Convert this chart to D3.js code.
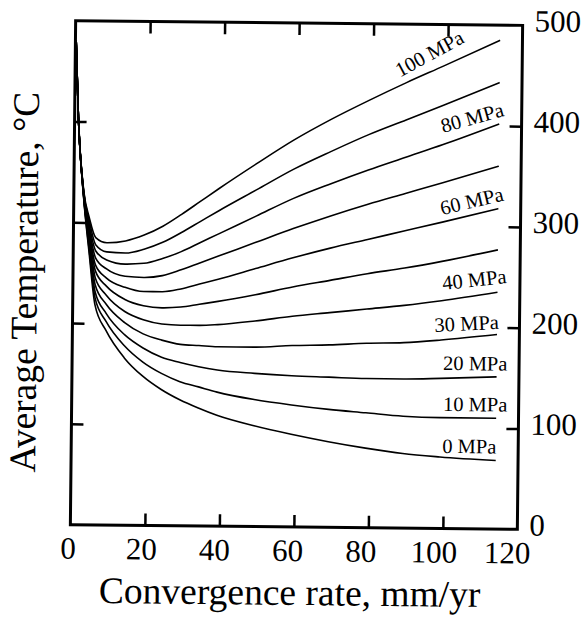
<!DOCTYPE html>
<html>
<head>
<meta charset="utf-8">
<script src="https://cdn.jsdelivr.net/npm/d3@7"></script>
<style>
  html, body { margin: 0; padding: 0; background: #fff; }
  text { font-family: "Liberation Serif", "Times New Roman", serif; fill: #000; }
</style>
</head>
<body>
<svg id="chart" width="587" height="618"></svg>
<script>
// Convergence rate (mm/yr) at which each temperature curve is sampled
const rates = [0.2, 1, 2.7, 4.2, 6, 9, 14, 19, 24, 29, 34, 39, 49, 59, 69, 79, 89, 99, 114];

// Average temperature (°C) for each shear stress level
const temp0MPa   = [480, 405, 322, 272, 218, 193, 166, 148, 135, 125, 117, 110, 100, 92, 85, 79, 74, 71, 68];
const temp10MPa  = [480, 405, 323, 275, 225, 202, 178, 162, 151, 143, 138, 133, 126, 121, 117, 114, 111, 110, 110];
const temp20MPa  = [480, 405, 324, 279, 231, 210, 189, 176, 167, 162, 158, 155, 152, 150, 149, 148, 148, 149, 151];
const temp30MPa  = [480, 405, 324, 282, 238, 219, 201, 190, 184, 180, 179, 178, 178, 180, 181, 183, 184, 187, 193];
const temp40MPa  = [480, 405, 325, 285, 245, 228, 212, 204, 200, 199, 199, 200, 204, 209, 213, 217, 221, 226, 235];
const temp50MPa  = [480, 405, 326, 289, 252, 237, 224, 218, 216, 217, 220, 223, 230, 238, 245, 252, 258, 265, 277];
const temp60MPa  = [480, 405, 327, 292, 258, 245, 236, 232, 232, 235, 240, 245, 256, 267, 277, 286, 295, 304, 318];
const temp70MPa  = [480, 405, 328, 295, 265, 254, 247, 246, 248, 254, 261, 268, 282, 296, 309, 321, 332, 343, 360];
const temp80MPa  = [480, 405, 328, 298, 272, 263, 259, 260, 265, 272, 281, 290, 308, 326, 341, 355, 368, 381, 402];
const temp90MPa  = [480, 405, 329, 302, 278, 271, 270, 274, 281, 291, 302, 313, 334, 355, 373, 390, 405, 420, 443];
const temp100MPa = [480, 405, 330, 305, 285, 280, 282, 288, 297, 309, 322, 335, 360, 384, 405, 424, 442, 459, 485];

const stressSeries = [temp0MPa, temp10MPa, temp20MPa, temp30MPa, temp40MPa, temp50MPa,
                      temp60MPa, temp70MPa, temp80MPa, temp90MPa, temp100MPa];

// Axis ticks
const xTickValues = [0, 20, 40, 60, 80, 100, 120];
const yTickValues = [0, 100, 200, 300, 400, 500];

// Curve annotations
const curveLabelTexts = ["100 MPa", "80 MPa", "60 MPa", "40 MPa", "30 MPa", "20 MPa", "10 MPa", "0 MPa"];
// where each annotation starts (rate, temperature) and its tilt in degrees
const curveLabelRates  = [87.2, 98.9, 98.9, 99.4, 97.3, 99.6, 99.7, 99.6];
const curveLabelTemps  = [447, 392.4, 310.8, 236.6, 194.8, 157.3, 116.7, 75];
const curveLabelAngles = [-29, -16, -14, -7, -3.5, 0, 0, 0];

const svg = d3.select("#chart");
// the whole figure sits very slightly turned
const g = svg.append("g").attr("transform", "rotate(0.6,296,275)");

const x = d3.scaleLinear().domain([0, 120]).range([73, 520]);
const y = d3.scaleLinear().domain([0, 500]).range([527, 23]);
// tick numbers along the bottom sit a little left of their ticks
const xLabelPos = d3.scaleLinear().domain([0, 120]).range([71, 510]);

// frame
g.append("rect")
  .attr("x", x(0)).attr("y", y(500))
  .attr("width", x(120) - x(0)).attr("height", y(0) - y(500))
  .attr("fill", "none").attr("stroke", "#000").attr("stroke-width", 3);

// inward ticks on all four sides
const innerX = xTickValues.filter(v => v > 0 && v < 120);
const innerY = yTickValues.filter(v => v > 0 && v < 500);
function styleAxis(sel) {
  sel.select(".domain").remove();
  sel.selectAll(".tick line").attr("stroke", "#000").attr("stroke-width", 2.5);
  sel.selectAll(".tick text").remove();
}
g.append("g").attr("transform", `translate(0,${y(0)})`)
  .call(d3.axisBottom(x).tickValues(innerX).tickSize(-12)).call(styleAxis);
g.append("g").attr("transform", `translate(0,${y(500)})`)
  .call(d3.axisTop(x).tickValues(innerX).tickSize(-12)).call(styleAxis);
g.append("g").attr("transform", `translate(${x(0)},0)`)
  .call(d3.axisLeft(y).tickValues(innerY).tickSize(-12)).call(styleAxis);
g.append("g").attr("transform", `translate(${x(120)},0)`)
  .call(d3.axisRight(y).tickValues(innerY).tickSize(-12)).call(styleAxis);

// tick numbers
g.selectAll(".xnum").data(xTickValues).join("text")
  .attr("class", "xnum")
  .attr("x", d => xLabelPos(d)).attr("y", y(0) + 34)
  .attr("text-anchor", "middle").attr("font-size", 31)
  .text(d => d);
g.selectAll(".ynum").data(yTickValues).join("text")
  .attr("class", "ynum")
  .attr("x", x(120) + 12).attr("y", d => y(d) + 6)
  .attr("text-anchor", "start").attr("font-size", 31)
  .text(d => d);

// axis titles
g.append("text")
  .attr("x", 293).attr("y", 605)
  .attr("text-anchor", "middle").attr("font-size", 37.5)
  .text("Convergence rate, mm/yr");
g.append("text")
  .attr("transform", "translate(37,285) rotate(-90)")
  .attr("text-anchor", "middle").attr("font-size", 37.5)
  .text("Average Temperature, °C");

// temperature curves
const line = d3.line()
  .x(d => x(d[0]))
  .y(d => y(d[1]))
  .curve(d3.curveMonotoneX);

g.selectAll(".curve").data(stressSeries).join("path")
  .attr("class", "curve")
  .attr("d", s => line(rates.map((r, i) => [r, s[i]])))
  .attr("fill", "none").attr("stroke", "#000").attr("stroke-width", 1.6);

// curve annotations
g.selectAll(".clabel").data(curveLabelTexts).join("text")
  .attr("class", "clabel")
  .attr("transform", (d, i) =>
    `translate(${x(curveLabelRates[i])},${y(curveLabelTemps[i])}) rotate(${curveLabelAngles[i]})`)
  .attr("font-size", 20.5)
  .text(d => d);
</script>
</body>
</html>
